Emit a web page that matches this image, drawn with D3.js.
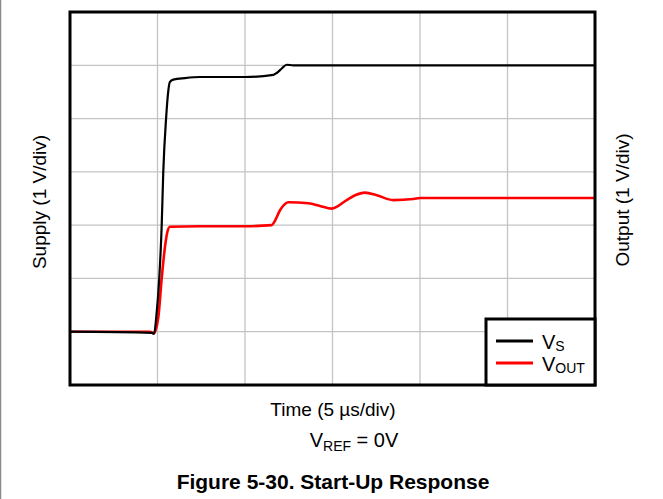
<!DOCTYPE html>
<html>
<head>
<meta charset="utf-8">
<script src="https://cdn.jsdelivr.net/npm/d3@7"></script>
<style>
  html, body { margin: 0; padding: 0; background: #fff; }
  svg { display: block; font-family: "Liberation Sans", Arial, sans-serif; }
</style>
</head>
<body>
<div id="chart"></div>
<script>
// time in µs (5 µs/div), values in volts (1 V/div)
const vsTime  = [0, 4.67, 4.8, 4.94, 5.10, 5.24, 5.33, 5.49, 5.62, 5.71, 5.90, 6.57, 7.43, 10.0, 11.62, 11.83, 12.1, 12.38, 12.76, 30];
const vsValue = [0, -0.02, -0.04, 0.31, 1.0, 2.0, 3.0, 4.0, 4.53, 4.69, 4.73, 4.76, 4.78, 4.78, 4.82, 4.86, 4.94, 5.01, 5.0, 5.0];

const voutTime  = [0, 4.57, 4.8, 4.91, 5.05, 5.24, 5.43, 5.57, 5.71, 7.43, 10.0, 11.53, 11.71, 12.0, 12.23, 12.47, 13.62, 14.29, 14.95, 15.81, 16.29, 16.86, 17.53, 18.47, 19.62, 20.0, 30];
const voutValue = [0, 0, -0.03, 0.05, 0.28, 1.0, 1.6, 1.88, 1.97, 1.98, 1.98, 2.0, 2.08, 2.28, 2.38, 2.43, 2.41, 2.36, 2.31, 2.47, 2.56, 2.61, 2.56, 2.47, 2.49, 2.51, 2.51];

const xTicks = [0, 5, 10, 15, 20, 25, 30];
const yTicks = [-1, 0, 1, 2, 3, 4, 5, 6];

const width = 663, height = 499;
const plotLeft = 70, plotRight = 595, plotTop = 12, plotBottom = 385;

const svg = d3.select('#chart').append('svg')
    .attr('width', width)
    .attr('height', height);

// page border line at far left
svg.append('line')
    .attr('x1', 0.5).attr('x2', 0.5)
    .attr('y1', 0).attr('y2', height)
    .style('stroke', '#8a8a8a')
    .style('stroke-width', 1.5);

const x = d3.scaleLinear().domain([0, 30]).range([plotLeft, plotRight]);
const y = d3.scaleLinear().domain([-1, 6]).range([plotBottom, plotTop]);

svg.append('defs').append('clipPath').attr('id', 'plotClip')
    .append('rect')
    .attr('x', plotLeft).attr('y', plotTop)
    .attr('width', plotRight - plotLeft).attr('height', plotBottom - plotTop);

// grid
const grid = svg.append('g');
grid.selectAll('line.vgrid')
    .data(xTicks.slice(1, -1))
    .enter().append('line')
    .attr('x1', d => x(d)).attr('x2', d => x(d))
    .attr('y1', plotTop).attr('y2', plotBottom)
    .style('stroke', '#c4c4c4')
    .style('stroke-width', 1.3);
grid.selectAll('line.hgrid')
    .data(yTicks.slice(1, -1))
    .enter().append('line')
    .attr('x1', plotLeft).attr('x2', plotRight)
    .attr('y1', d => y(d)).attr('y2', d => y(d))
    .style('stroke', '#c4c4c4')
    .style('stroke-width', 1.3);

// traces
const line = d3.line()
    .x(d => x(d[0]))
    .y(d => y(d[1]))
    .curve(d3.curveMonotoneX);

const traces = svg.append('g').attr('clip-path', 'url(#plotClip)');
traces.append('path')
    .datum(voutTime.map((t, i) => [t, voutValue[i]]))
    .attr('d', line)
    .style('fill', 'none')
    .style('stroke', '#ff0000')
    .style('stroke-width', 2.6);
traces.append('path')
    .datum(vsTime.map((t, i) => [t, vsValue[i]]))
    .attr('d', line)
    .style('fill', 'none')
    .style('stroke', '#000')
    .style('stroke-width', 2.2);

// frame
svg.append('rect')
    .attr('x', plotLeft).attr('y', plotTop)
    .attr('width', plotRight - plotLeft).attr('height', plotBottom - plotTop)
    .style('fill', 'none')
    .style('stroke', '#000')
    .style('stroke-width', 3);

// legend
const legend = svg.append('g');
legend.append('rect')
    .attr('x', 486).attr('y', 319)
    .attr('width', plotRight - 486).attr('height', plotBottom - 319)
    .style('fill', '#fff')
    .style('stroke', '#000')
    .style('stroke-width', 3);
const legendItems = [
    { main: 'V', sub: 'S', color: '#000' },
    { main: 'V', sub: 'OUT', color: '#ff0000' }
];
legendItems.forEach((item, i) => {
    const ly = 341 + i * 22;
    legend.append('line')
        .attr('x1', 496).attr('x2', 533)
        .attr('y1', ly).attr('y2', ly)
        .style('stroke', item.color)
        .style('stroke-width', 3);
    const t = legend.append('text')
        .attr('x', 542).attr('y', ly + 8)
        .style('font-size', '20px');
    t.append('tspan').text(item.main);
    t.append('tspan').attr('dy', 2).style('font-size', '14px').text(item.sub);
});

// axis titles
svg.append('text')
    .attr('transform', 'translate(46,202) rotate(-90)')
    .attr('text-anchor', 'middle')
    .style('font-size', '19px')
    .text('Supply (1 V/div)');
svg.append('text')
    .attr('transform', 'translate(629,200) rotate(-90)')
    .attr('text-anchor', 'middle')
    .style('font-size', '19px')
    .text('Output (1 V/div)');
svg.append('text')
    .attr('x', 333).attr('y', 416)
    .attr('text-anchor', 'middle')
    .style('font-size', '19px')
    .text('Time (5 µs/div)');

const vref = svg.append('text')
    .attr('x', 354).attr('y', 447)
    .attr('text-anchor', 'middle')
    .style('font-size', '20px');
vref.append('tspan').text('V');
vref.append('tspan').attr('dy', 4).style('font-size', '14px').text('REF');
vref.append('tspan').attr('dy', -4).text(' = 0V');

svg.append('text')
    .attr('x', 333).attr('y', 489)
    .attr('text-anchor', 'middle')
    .style('font-size', '21px')
    .style('font-weight', 'bold')
    .text('Figure 5-30. Start-Up Response');
</script>
</body>
</html>
